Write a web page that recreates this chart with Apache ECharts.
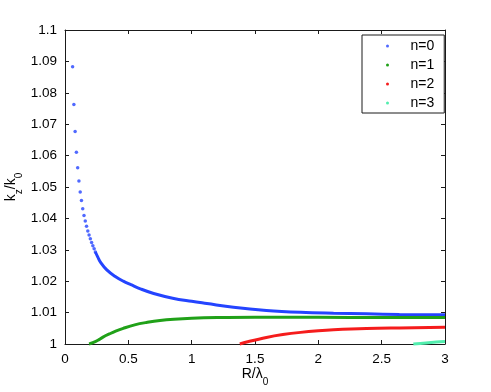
<!DOCTYPE html>
<html>
<head>
<meta charset="utf-8">
<script src="https://cdn.jsdelivr.net/npm/echarts@6/dist/echarts.min.js"></script>
<style>
  html, body { margin: 0; padding: 0; background: #fff; }
  #chart { width: 491px; height: 392px; }
</style>
</head>
<body>
<div id="chart"></div>
<script>
// values
var xTicks = [0, 0.5, 1, 1.5, 2, 2.5, 3];

// n=0, sparse dots near the axis
var n0DotX = [0.06, 0.07, 0.08, 0.09, 0.10, 0.11, 0.12, 0.13, 0.14, 0.15,
              0.16, 0.17, 0.18, 0.19, 0.20, 0.21, 0.22, 0.23, 0.24];
var n0DotY = [1.0883, 1.0763, 1.0677, 1.0611, 1.0561, 1.0519, 1.0484, 1.0457, 1.0431, 1.0409,
              1.0392, 1.0375, 1.0360, 1.0347, 1.0335, 1.0323, 1.0313, 1.0303, 1.0293];
// n=0, dense part (dots merge into a line)
var n0X = [0.24, 0.26, 0.28, 0.33, 0.40, 0.46, 0.52, 0.60, 0.70, 0.85, 1.00, 1.12, 1.33, 1.59, 1.86, 2.12, 2.38, 2.64, 3.00];
var n0Y = [1.0293, 1.0276, 1.0261, 1.0236, 1.0214, 1.0200, 1.0189, 1.0175, 1.0161, 1.0146, 1.0136, 1.0129, 1.0117, 1.0107, 1.0101, 1.0098, 1.0096, 1.0094, 1.0093];

var n1X = [0.19, 0.22, 0.26, 0.30, 0.35, 0.40, 0.46, 0.55, 0.65, 0.75, 0.86, 1.00, 1.20, 1.50, 2.00, 2.50, 3.00];
var n1Y = [1.0000, 1.0004, 1.0012, 1.0022, 1.0032, 1.0041, 1.0050, 1.0061, 1.0069, 1.0075, 1.0079, 1.0082, 1.0084, 1.0085, 1.0085, 1.0084, 1.0084];

var n2X = [1.38, 1.45, 1.59, 1.72, 1.86, 2.00, 2.12, 2.38, 2.64, 3.00];
var n2Y = [1.0000, 1.0008, 1.0021, 1.0030, 1.0037, 1.0042, 1.0045, 1.0049, 1.0051, 1.0053];

var n3X = [2.75, 2.85, 2.93, 3.00];
var n3Y = [1.0000, 1.0003, 1.0006, 1.0008];

var legendNames = ['n=0', 'n=1', 'n=2', 'n=3'];
var colors = ['#2444ff', '#20a118', '#f51c1c', '#52eeae'];

function zip(xs, ys) {
    var out = [];
    for (var i = 0; i < xs.length; i++) {
        out.push([xs[i], ys[i]]);
    }
    return out;
}

var font = "'Liberation Sans', Arial, Helvetica, sans-serif";
var axisColor = '#1a1a1a';

function frameAxis(pos, isX, showLabel) {
    var ax = {
        type: 'value',
        position: pos,
        min: isX ? 0 : 1,
        max: isX ? 3 : 1.1,
        interval: isX ? 0.5 : 0.01,
        splitLine: { show: false },
        axisLine: { show: true, onZero: false, lineStyle: { color: axisColor, width: 1 } },
        axisTick: { show: true, inside: true, length: 4, lineStyle: { color: axisColor } },
        axisLabel: {
            show: showLabel,
            color: '#000',
            fontSize: 13.5,
            fontFamily: font,
            margin: 8
        }
    };
    return ax;
}

var nameRich = {
    m: { fontSize: 14, fontFamily: font, color: '#000', lineHeight: 26 },
    s: { fontSize: 10, fontFamily: font, color: '#000', lineHeight: 12, verticalAlign: 'bottom' }
};

var xMain = frameAxis('bottom', true, true);
xMain.name = '{m|R/λ}{s|0}';
xMain.nameLocation = 'middle';
xMain.nameGap = 17;
xMain.nameMoveOverlap = false;
xMain.nameTextStyle = { rich: nameRich };

var yMain = frameAxis('left', false, true);
yMain.name = '{m|k}{s|z}{m|/k}{s|0}';
yMain.nameLocation = 'middle';
yMain.nameGap = 41;
yMain.nameMoveOverlap = false;
yMain.nameTextStyle = { rich: nameRich };

function lineSeries(name, color, xs, ys) {
    return {
        name: name,
        type: 'line',
        showSymbol: false,
        smooth: 0.4,
        clip: false,
        itemStyle: { color: color },
        lineStyle: { color: color, width: 3 },
        data: zip(xs, ys)
    };
}

var option = {
    animation: false,
    backgroundColor: '#fff',
    grid: { left: 65, right: 46, top: 30, bottom: 48, outerBoundsMode: 'none', containLabel: false },
    legend: {
        orient: 'vertical',
        left: 362,
        top: 35,
        padding: [4, 10, 3, 24],
        itemGap: 5,
        itemWidth: 36,
        itemHeight: 3,
        borderColor: axisColor,
        borderWidth: 1,
        borderRadius: 0,
        backgroundColor: '#fff',
        textStyle: { fontSize: 14, fontFamily: font, color: '#000' },
        itemStyle: { borderWidth: 0 },
        data: [
            { name: legendNames[0], icon: 'circle' },
            { name: legendNames[1], icon: 'circle' },
            { name: legendNames[2], icon: 'circle' },
            { name: legendNames[3], icon: 'circle' }
        ]
    },
    xAxis: [xMain, frameAxis('top', true, false)],
    yAxis: [yMain, frameAxis('right', false, false)],
    series: [
        {
            name: legendNames[0],
            type: 'scatter',
            symbol: 'circle',
            symbolSize: 3.5,
            itemStyle: { color: colors[0] },
            data: zip(n0DotX, n0DotY)
        },
        lineSeries(legendNames[0], colors[0], n0X, n0Y),
        lineSeries(legendNames[1], colors[1], n1X, n1Y),
        lineSeries(legendNames[2], colors[2], n2X, n2Y),
        lineSeries(legendNames[3], colors[3], n3X, n3Y)
    ]
};

var myChart = echarts.init(document.getElementById('chart'), null, { renderer: 'canvas' });
myChart.setOption(option);
</script>
</body>
</html>
